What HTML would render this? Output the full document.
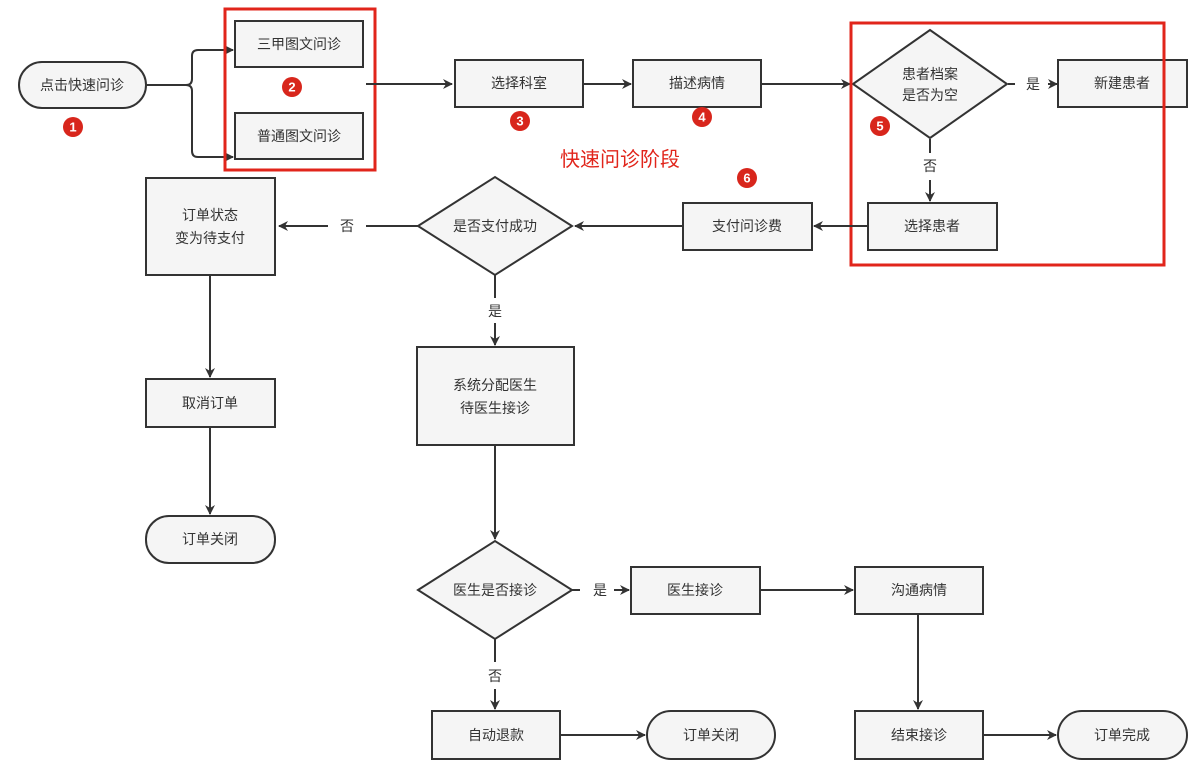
<!DOCTYPE html>
<html><head><meta charset="utf-8"><style>
html,body{margin:0;padding:0;background:#fff;}
svg{display:block;}
text{font-family:"Liberation Sans","Noto Sans CJK SC",sans-serif;font-size:14px;fill:#333;}
.b{fill:#f5f5f5;stroke:#333;stroke-width:2;}
.l{stroke:#333;stroke-width:2;fill:none;}
.red{fill:none;stroke:#e1251b;stroke-width:3;}
.bd circle{fill:#d8261c;}
.bd text{fill:#fff;font-weight:bold;font-size:13px;}
</style></head><body>
<svg width="1195" height="772" viewBox="0 0 1195 772" xmlns="http://www.w3.org/2000/svg">
<defs><marker id="a" markerWidth="10" markerHeight="10" refX="9" refY="5" orient="auto" markerUnits="userSpaceOnUse"><path d="M0,0 L10,5 L0,10 L3,5 Z" fill="#333"/></marker></defs>
<g text-anchor="middle" dominant-baseline="central">
<!-- row 1 -->
<rect class="b" x="19" y="62" width="127" height="46" rx="23"/><text x="82" y="85">点击快速问诊</text>
<path class="l" d="M146,85 H186 M186,85 Q192,85 192,79 V56 Q192,50 198,50 H233" marker-end="url(#a)"/>
<path class="l" d="M186,85 Q192,85 192,91 V151 Q192,157 198,157 H233" marker-end="url(#a)"/>
<rect class="b" x="235" y="21" width="128" height="46"/><text x="299" y="44">三甲图文问诊</text>
<rect class="b" x="235" y="113" width="128" height="46"/><text x="299" y="136">普通图文问诊</text>
<rect class="red" x="225" y="9" width="150" height="161"/>
<path class="l" d="M366,84 H452" marker-end="url(#a)"/>
<rect class="b" x="455" y="60" width="128" height="47"/><text x="519" y="83">选择科室</text>
<path class="l" d="M583,84 H631" marker-end="url(#a)"/>
<rect class="b" x="633" y="60" width="128" height="47"/><text x="697" y="83">描述病情</text>
<path class="l" d="M761,84 H850" marker-end="url(#a)"/>
<polygon class="b" points="853,84 930,30 1007,84 930,138"/>
<text x="930" y="74">患者档案</text><text x="930" y="95">是否为空</text>
<path class="l" d="M1008,84 H1015 M1048,84 H1057" marker-end="url(#a)"/>
<text x="1033" y="84">是</text>
<rect class="b" x="1058" y="60" width="129" height="47"/><text x="1122" y="83">新建患者</text>
<path class="l" d="M930,139 V153"/><text x="930" y="166">否</text>
<path class="l" d="M930,180 V201" marker-end="url(#a)"/>
<rect class="b" x="868" y="203" width="129" height="47"/><text x="932" y="226">选择患者</text>
<rect class="red" x="851" y="23" width="313" height="242"/>
<path class="l" d="M868,226 H814" marker-end="url(#a)"/>
<rect class="b" x="683" y="203" width="129" height="47"/><text x="747" y="226">支付问诊费</text>
<text x="620" y="160" style="fill:#e1251b;font-size:20px">快速问诊阶段</text>
<path class="l" d="M683,226 H575" marker-end="url(#a)"/>
<polygon class="b" points="418,226 495,177 572,226 495,275"/><text x="495" y="226">是否支付成功</text>
<path class="l" d="M418,226 H366 M328,226 H279" marker-end="url(#a)"/>
<text x="347" y="226">否</text>
<rect class="b" x="146" y="178" width="129" height="97"/><text x="210" y="215">订单状态</text><text x="210" y="238">变为待支付</text>
<path class="l" d="M210,275 V377" marker-end="url(#a)"/>
<rect class="b" x="146" y="379" width="129" height="48"/><text x="210" y="403">取消订单</text>
<path class="l" d="M210,427 V514" marker-end="url(#a)"/>
<rect class="b" x="146" y="516" width="129" height="47" rx="23"/><text x="210" y="539">订单关闭</text>
<path class="l" d="M495,275 V298"/><text x="495" y="311">是</text>
<path class="l" d="M495,323 V345" marker-end="url(#a)"/>
<rect class="b" x="417" y="347" width="157" height="98"/><text x="495" y="385">系统分配医生</text><text x="495" y="408">待医生接诊</text>
<path class="l" d="M495,445 V539" marker-end="url(#a)"/>
<polygon class="b" points="418,590 495,541 572,590 495,639"/><text x="495" y="590">医生是否接诊</text>
<path class="l" d="M572,590 H580 M614,590 H629" marker-end="url(#a)"/><text x="600" y="590">是</text>
<rect class="b" x="631" y="567" width="129" height="47"/><text x="695" y="590">医生接诊</text>
<path class="l" d="M760,590 H853" marker-end="url(#a)"/>
<rect class="b" x="855" y="567" width="128" height="47"/><text x="919" y="590">沟通病情</text>
<path class="l" d="M918,614 V709" marker-end="url(#a)"/>
<rect class="b" x="855" y="711" width="128" height="48"/><text x="919" y="735">结束接诊</text>
<path class="l" d="M983,735 H1056" marker-end="url(#a)"/>
<rect class="b" x="1058" y="711" width="129" height="48" rx="24"/><text x="1122" y="735">订单完成</text>
<path class="l" d="M495,639 V662"/><text x="495" y="676">否</text>
<path class="l" d="M495,689 V709" marker-end="url(#a)"/>
<rect class="b" x="432" y="711" width="128" height="48"/><text x="496" y="735">自动退款</text>
<path class="l" d="M560,735 H645" marker-end="url(#a)"/>
<rect class="b" x="647" y="711" width="128" height="48" rx="24"/><text x="711" y="735">订单关闭</text>
<g class="bd">
<circle cx="73" cy="127" r="10"/><text x="73" y="127">1</text>
<circle cx="292" cy="87" r="10"/><text x="292" y="87">2</text>
<circle cx="520" cy="121" r="10"/><text x="520" y="121">3</text>
<circle cx="702" cy="117" r="10"/><text x="702" y="117">4</text>
<circle cx="880" cy="126" r="10"/><text x="880" y="126">5</text>
<circle cx="747" cy="178" r="10"/><text x="747" y="178">6</text>
</g>
</g>
</svg>
</body></html>
